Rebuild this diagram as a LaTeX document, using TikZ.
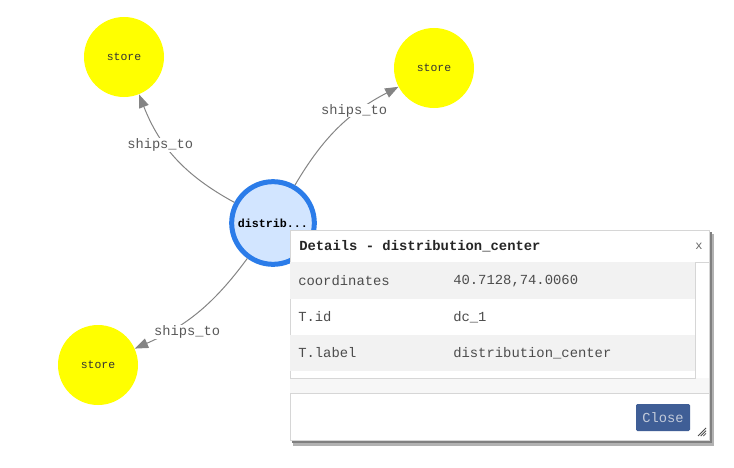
\documentclass[tikz,border=0pt]{standalone}
\usepackage{fontspec}
\setmonofont{Liberation Mono}
\usetikzlibrary{arrows.meta, positioning}
\definecolor{storeyellow}{RGB}{255,255,0}
\definecolor{visblue}{HTML}{2B7CE9}
\definecolor{visfill}{HTML}{D2E5FF}
\definecolor{edgegray}{HTML}{848484}
\definecolor{rowgray}{HTML}{F2F2F2}
\definecolor{linegray}{HTML}{D6D6D6}
\definecolor{btnblue}{HTML}{3F5E96}
\definecolor{btntext}{HTML}{C3CBDA}
\tikzset{
  store/.style={circle, fill=storeyellow, minimum size=60pt, inner sep=0pt,
                text=black!80, font=\ttfamily\fontsize{8.6}{10}\selectfont},
  hub/.style={circle, draw=visblue, line width=3.75pt, fill=visfill,
              minimum size=62pt, inner sep=0pt,
              font=\ttfamily\bfseries\fontsize{8.75}{10}\selectfont},
  edge/.style={-{Triangle[length=10pt,width=7.5pt]}, draw=edgegray, line width=0.75pt},
  elabel/.style={fill=white, inner sep=0.3pt, text=black!65,
                 font=\ttfamily\fontsize{10.3}{12}\selectfont},
  cell/.style={anchor=west, inner sep=0pt, text=black!70,
               font=\ttfamily\fontsize{10.4}{12}\selectfont},
  title/.style={anchor=west, inner sep=0pt, text=black!85,
                font=\ttfamily\bfseries\fontsize{10.4}{12}\selectfont},
  btn/.style={rectangle, rounded corners=1pt, fill=btnblue, text=btntext,
              minimum width=40.5pt, minimum height=20.25pt, inner sep=0pt,
              font=\ttfamily\fontsize{10.3}{12}\selectfont},
}
\begin{document}
\begin{tikzpicture}[x=0.75pt, y=0.75pt]
  \useasboundingbox (0,0) rectangle (734,-467);

  % graph
  \node[store] (store_nw) at (124,-57)  {store};
  \node[store] (store_ne) at (434,-68)  {store};
  \node[store] (store_sw) at (98,-365)  {store};
  \node[hub]   (dc)       at (273,-223) {distrib...};

  \draw[edge] (dc) to[bend left=20] node[elabel, pos=0.62, xshift=-4pt]{ships\_to} (store_nw);
  \draw[edge] (dc) to[bend left=16] node[elabel, pos=0.65, yshift=3pt]{ships\_to} (store_ne);
  \draw[edge] (dc) to[bend left=15] node[elabel, pos=0.6, xshift=0pt, yshift=-9pt]{ships\_to} (store_sw);

  % details dialog
  \fill[black!30] (293,-234) rectangle (714,-446);
  \fill[black!50] (292,-232) rectangle (712,-443);
  \filldraw[fill=white, draw=linegray, line width=0.75pt] (290,-230) rectangle (709,-440);
  \node[title] (head) at (299,-246) {Details - distribution\_center};
  \node[text=black!60, font=\ttfamily\fontsize{9}{10}\selectfont] (shut) at (699,-246) {x};
  \draw[linegray, line width=0.75pt] (290,-262) -- (709,-262);

  \fill[black!3] (290.4,-378) rectangle (708.6,-393);
  \fill[rowgray] (290.4,-262) rectangle (695,-299);
  \fill[rowgray] (290.4,-335) rectangle (695,-371);
  \draw[linegray, line width=0.75pt] (695,-262) -- (695,-378) -- (290.4,-378);
  \draw[linegray, line width=0.75pt] (290,-393) -- (709,-393);

  \node[cell] (k1) at (298,-281) {coordinates};
  \node[cell] (v1) at (453,-281) {40.7128,74.0060};
  \node[cell] (k2) at (298,-317) {T.id};
  \node[cell] (v2) at (453,-317) {dc\_1};
  \node[cell] (k3) at (298,-353) {T.label};
  \node[cell] (v3) at (453,-353) {distribution\_center};

  \node[btn] (close) at (663,-417.5) {Close};

  % resize grip
  \coordinate (grip) at (706,-436);
  \draw[black!70, line width=0.6pt] ([xshift=-6pt]grip) -- ([yshift=6pt]grip);
  \draw[black!70, line width=0.6pt] ([xshift=-4pt]grip) -- ([yshift=4pt]grip);
  \draw[black!70, line width=0.6pt] ([xshift=-2pt]grip) -- ([yshift=2pt]grip);
\end{tikzpicture}
\end{document}
